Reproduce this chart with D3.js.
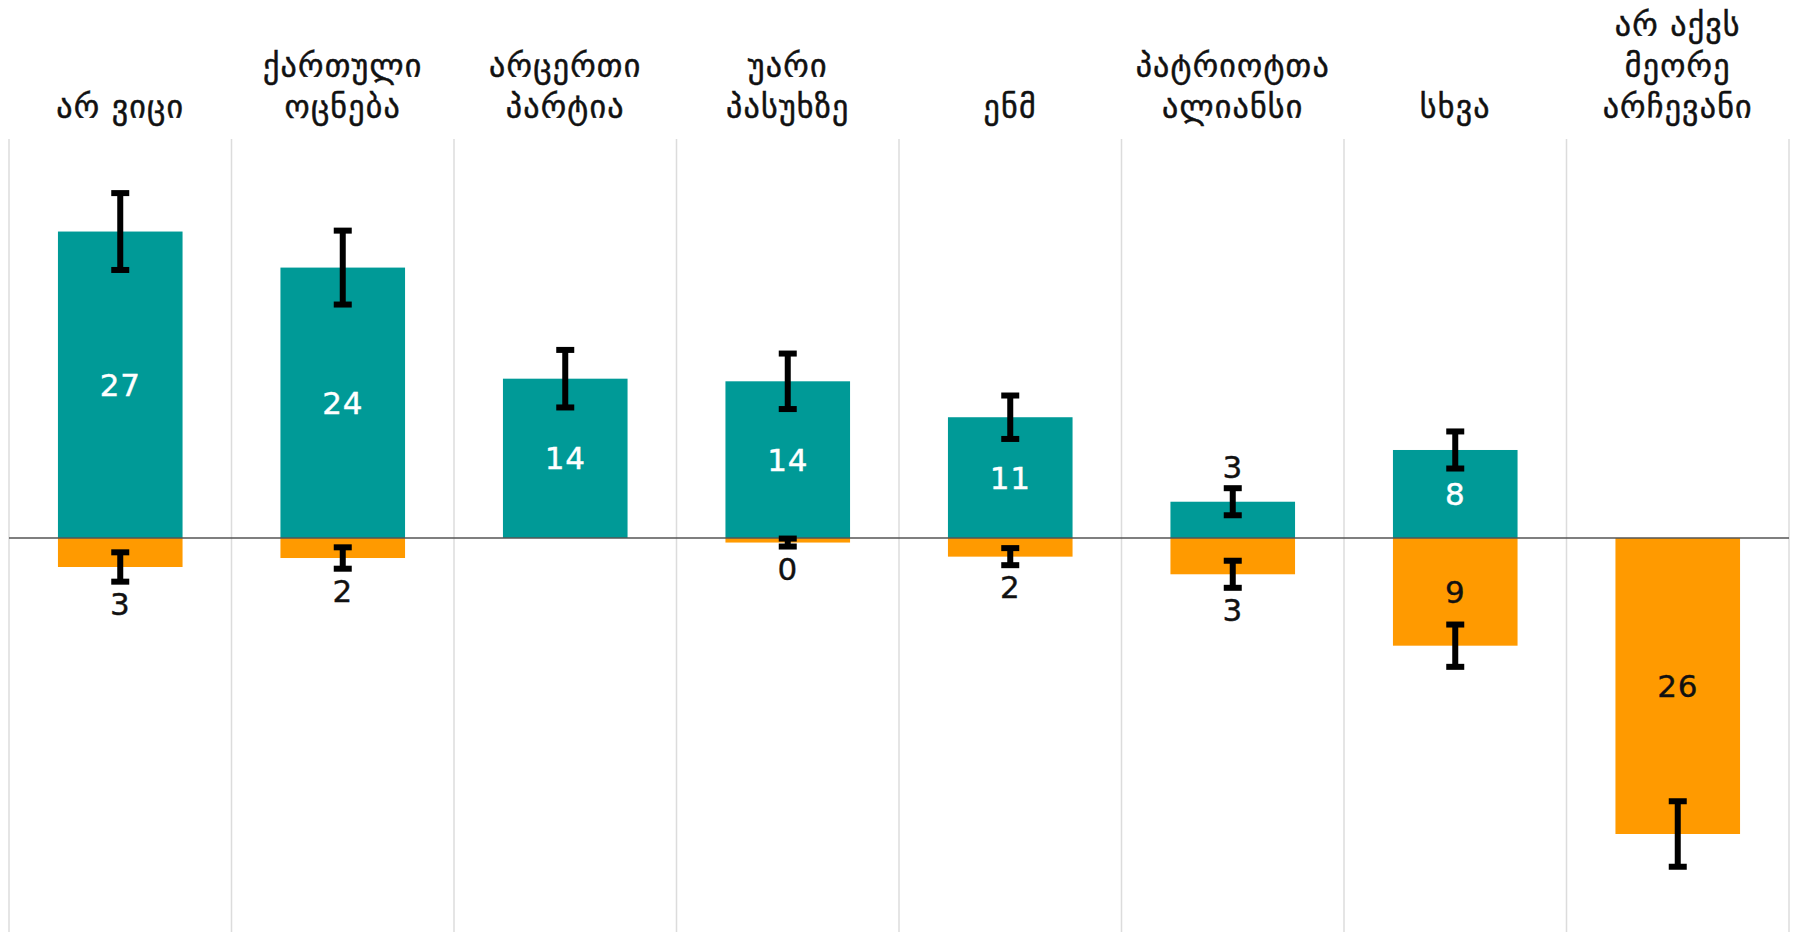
<!DOCTYPE html>
<html>
<head>
<meta charset="utf-8">
<script src="https://cdn.jsdelivr.net/npm/d3@7"></script>
<style>
  html, body { margin: 0; padding: 0; background: #fff; }
  svg { display: block; }
  text { font-family: "DejaVu Sans", sans-serif; }
</style>
</head>
<body>
<svg id="chart" width="1793" height="932"></svg>
<script>
// ---- data ----
const categories = ["არ ვიცი", "ქართული ოცნება", "არცერთი პარტია", "უარი პასუხზე", "ენმ", "პატრიოტთა ალიანსი", "სხვა", "არ აქვს მეორე არჩევანი"];
const categoryLines = [
  ["არ ვიცი"],
  ["ქართული", "ოცნება"],
  ["არცერთი", "პარტია"],
  ["უარი", "პასუხზე"],
  ["ენმ"],
  ["პატრიოტთა", "ალიანსი"],
  ["სხვა"],
  ["არ აქვს", "მეორე", "არჩევანი"]
];
const tealValues   = [26.95, 23.78, 14.01, 13.78, 10.62, 3.19, 7.74, null];
const tealErrors   = [3.38, 3.25, 2.53, 2.44, 1.91, 1.19, 1.63, null];
const orangeValues = [2.55, 1.76, null, 0.40, 1.64, 3.19, 9.47, 26.03];
const orangeErrors = [1.29, 0.94, null, 0.35, 0.75, 1.19, 1.86, 2.88];
const yDomain = [-35, 35];

// ---- layout ----
const W = 1793, H = 932;
const svg = d3.select("#chart");
const x = d3.scaleBand().domain(categories).range([9, 1789]).paddingInner(0.44).paddingOuter(0.22);
const y = d3.scaleLinear().domain(yDomain).range([936, 140]);
const step = x.step();
const TEAL = "#009a97", ORANGE = "#ff9a00", INK = "#111";

// vertical gridlines (band boundaries)
const bounds = d3.range(categories.length + 1).map(i => 9 + i * step);
svg.append("g").selectAll("line").data(bounds).join("line")
  .attr("x1", d => d).attr("x2", d => d)
  .attr("y1", 139).attr("y2", H)
  .attr("stroke", "#dcdcdc").attr("stroke-width", 1.5);

// category labels
const lineGap = 41, lastBaseline = 118;
const lab = svg.append("g").attr("font-size", 32).attr("fill", "#111").attr("text-anchor", "middle")
  .attr("letter-spacing", 1.2).attr("stroke", "#111").attr("stroke-width", 0.5)
  .style("font-family", "'DejaVu Sans', sans-serif");
categories.forEach((c, i) => {
  const lines = categoryLines[i];
  lines.forEach((ln, j) => {
    lab.append("text")
      .attr("x", x(c) + x.bandwidth() / 2)
      .attr("y", lastBaseline - (lines.length - 1 - j) * lineGap)
      .text(ln);
  });
});

// rows
const rows = categories.map((c, i) => ({
  c, t: tealValues[i], te: tealErrors[i], o: orangeValues[i], oe: orangeErrors[i]
}));

const bars = svg.append("g");
bars.selectAll("rect.teal").data(rows.filter(d => d.t != null)).join("rect")
  .attr("class", "teal")
  .attr("x", d => x(d.c)).attr("width", x.bandwidth())
  .attr("y", d => y(d.t)).attr("height", d => y(0) - y(d.t))
  .attr("fill", TEAL);
bars.selectAll("rect.orange").data(rows.filter(d => d.o != null)).join("rect")
  .attr("class", "orange")
  .attr("x", d => x(d.c)).attr("width", x.bandwidth())
  .attr("y", y(0)).attr("height", d => y(-d.o) - y(0))
  .attr("fill", ORANGE);

// zero line
svg.append("line").attr("x1", 9).attr("x2", 1789).attr("y1", y(0)).attr("y2", y(0))
  .attr("stroke", "#555").attr("stroke-width", 1.5);

// error bars
const eb = [];
rows.forEach(d => {
  if (d.t != null) eb.push({ c: d.c, v: d.t, e: d.te });
  if (d.o != null) eb.push({ c: d.c, v: -d.o, e: d.oe });
});
const eg = svg.append("g").attr("fill", "#000");
const capW = 18, capH = 6, stemW = 6;
eb.forEach(d => {
  const cx = x(d.c) + x.bandwidth() / 2;
  const y1 = y(d.v + d.e), y2 = y(d.v - d.e);
  eg.append("rect").attr("x", cx - stemW / 2).attr("width", stemW).attr("y", y1).attr("height", y2 - y1);
  eg.append("rect").attr("x", cx - capW / 2).attr("width", capW).attr("y", y1 - capH / 2).attr("height", capH);
  eg.append("rect").attr("x", cx - capW / 2).attr("width", capW).attr("y", y2 - capH / 2).attr("height", capH);
});

// value labels
const fmt = d3.format(".0f");
const vl = svg.append("g").attr("font-size", 31).attr("text-anchor", "middle").attr("dominant-baseline", "central")
  .attr("letter-spacing", 0.8);
rows.forEach(d => {
  const cx = x(d.c) + x.bandwidth() / 2;
  if (d.t != null) {
    const inside = d.t >= 5;
    vl.append("text").attr("x", cx)
      .attr("y", inside ? (y(d.t) + y(0)) / 2 : y(d.t + d.te) - 21)
      .attr("fill", inside ? "#fff" : INK)
      .attr("stroke", inside ? "#fff" : INK).attr("stroke-width", 0.4)
      .text(fmt(d.t));
  }
  if (d.o != null) {
    const inside = d.o >= 5;
    vl.append("text").attr("x", cx)
      .attr("y", inside ? (y(-d.o) + y(0)) / 2 : y(-d.o - d.oe) + 22)
      .attr("fill", INK)
      .attr("stroke", INK).attr("stroke-width", 0.4)
      .text(fmt(d.o));
  }
});
</script>
</body>
</html>
